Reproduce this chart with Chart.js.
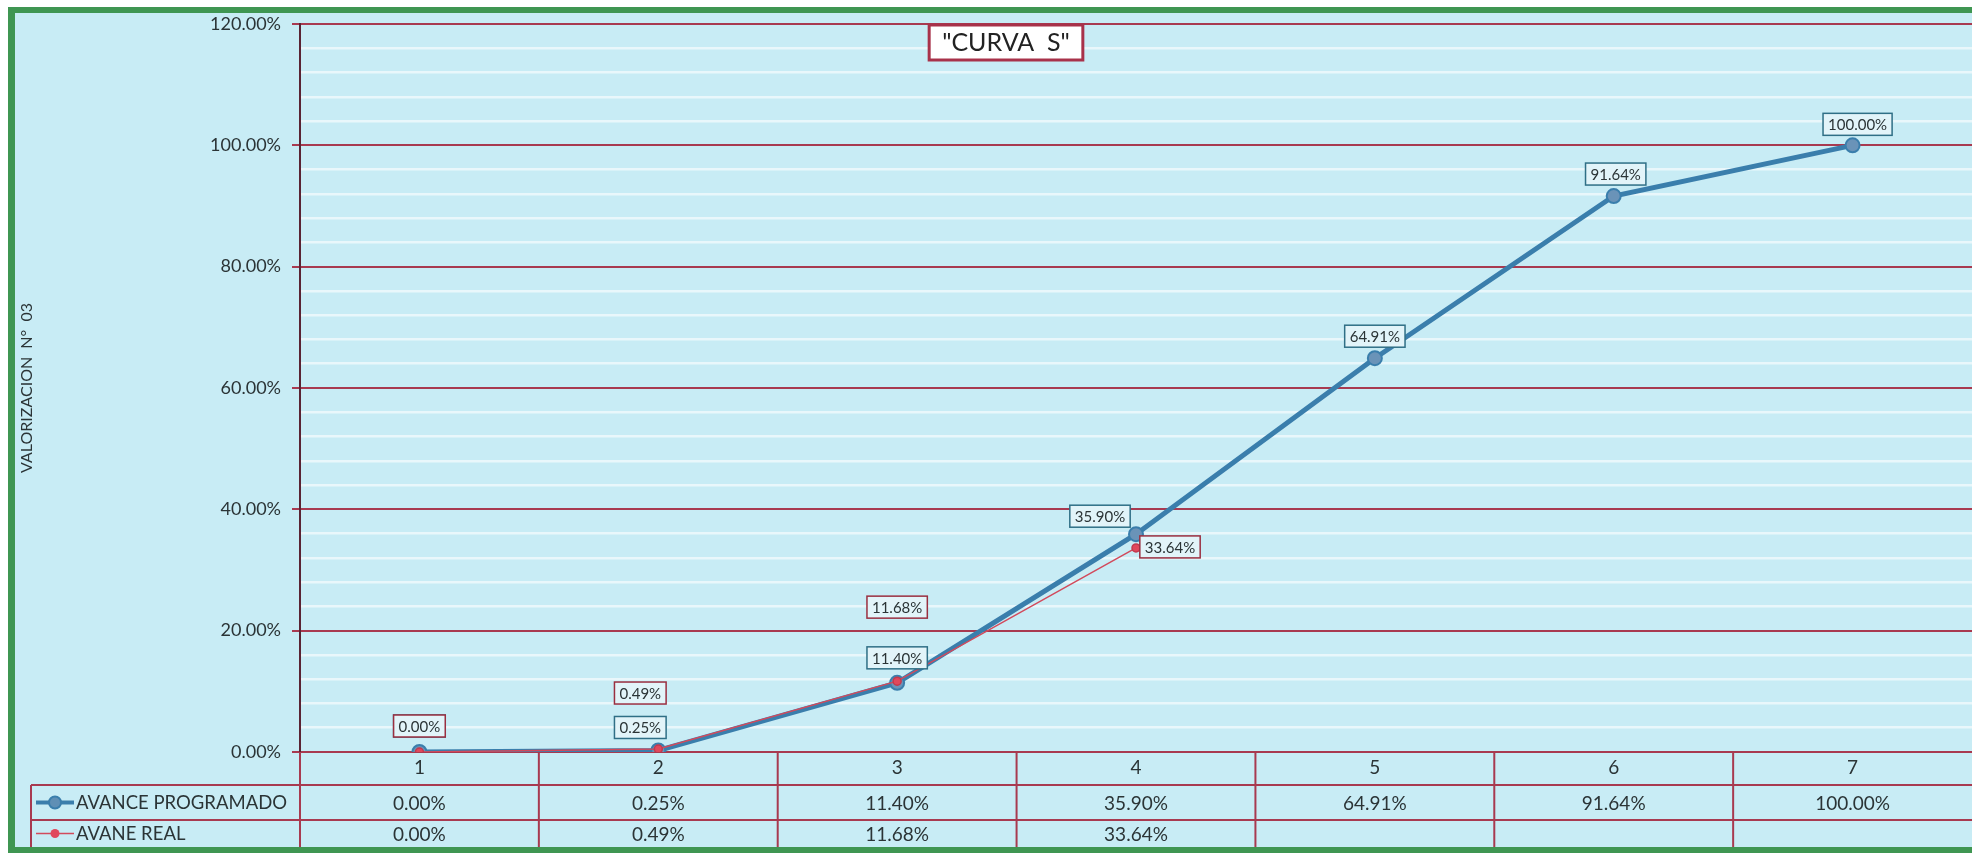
<!DOCTYPE html>
<html>
<head>
<meta charset="utf-8">
<script src="https://cdn.jsdelivr.net/npm/chart.js@4.4.0/dist/chart.umd.min.js"></script>
<style>
  html, body { margin: 0; padding: 0; background: #ffffff; overflow: hidden; }
  #outer { width: 1972px; height: 853px; overflow: hidden; position: relative; }
  #wrap { width: 1981px; height: 853px; position: relative; }
  canvas { display: block; }
</style>
</head>
<body>
<div id="outer"><div id="wrap"><canvas id="curva"></canvas></div></div>
<script>
// ==========================================
// Data
// ==========================================
const periodos = ["1", "2", "3", "4", "5", "6", "7"];
const avanceProgramado = [0.00, 0.25, 11.40, 35.90, 64.91, 91.64, 100.00];
const avanceReal = [0.00, 0.49, 11.68, 33.64];
const nombreProgramado = "AVANCE PROGRAMADO";
const nombreReal = "AVANE REAL";
const yMax = 120;
const yMajor = 20;
const yMinor = 4;

// label offsets (px) from each point, only styling
const offProg = [[0, -26], [-18, -23], [0, -25], [-36, -18], [0, -22], [2, -22], [5, -21]];
const offReal = [[0, -26], [-18, -56], [0, -74], [34, -1]];

const FONT = "Lato, 'Open Sans', sans-serif";
const RED = "#a83a50";
const BLUE = "#3a7eac";
const BG = "#c8ecf5";
const TXT = "#2b3436";
const fmt = (v) => v.toFixed(2) + "%";

// ==========================================
// Plugins
// ==========================================
const frame = {
   id: "frame",
   beforeDraw(chart) {
      const c = chart.ctx;
      c.save();
      c.fillStyle = "#ffffff";
      c.fillRect(0, 0, chart.width, chart.height);
      c.fillStyle = BG;
      c.fillRect(8, 7, chart.width, chart.height);
      c.fillStyle = "#3f9652";
      c.fillRect(8, 7, 7, chart.height);
      c.fillRect(8, 7, chart.width, 6);
      c.fillRect(8, chart.height - 6, chart.width, 6);
      c.restore();
   }
};

function drawBox(c, text, x, y, border) {
   c.font = "15px " + FONT;
   const w = c.measureText(text).width + 10;
   const h = 22;
   c.fillStyle = "#e2f4f9";
   c.fillRect(x - w / 2, y - h / 2, w, h);
   c.strokeStyle = border;
   c.lineWidth = 1.5;
   c.strokeRect(x - w / 2, y - h / 2, w, h);
   c.fillStyle = TXT;
   c.textAlign = "center";
   c.textBaseline = "middle";
   c.fillText(text, x, y + 1);
}

const pointLabels = {
   id: "pointLabels",
   afterDatasetsDraw(chart) {
      const c = chart.ctx;
      c.save();
      const prog = chart.getDatasetMeta(1).data;
      prog.forEach((p, i) => {
         drawBox(c, fmt(avanceProgramado[i]), p.x + offProg[i][0], p.y + offProg[i][1], "#2f6f86");
      });
      const real = chart.getDatasetMeta(0).data;
      real.forEach((p, i) => {
         drawBox(c, fmt(avanceReal[i]), p.x + offReal[i][0], p.y + offReal[i][1], "#9a2f40");
      });
      c.restore();
   }
};

const dataTable = {
   id: "dataTable",
   afterDraw(chart) {
      const c = chart.ctx;
      const area = chart.chartArea;
      const xs = chart.scales.x;
      const top = area.bottom;
      const r1 = top + 33;
      const r2 = top + 68;
      const bottom = chart.height - 6;
      const left = 31;
      const band = (area.right - area.left) / periodos.length;
      c.save();
      c.strokeStyle = RED;
      c.lineWidth = 2;
      c.beginPath();
      c.moveTo(left, r1); c.lineTo(chart.width, r1);
      c.moveTo(left, r2); c.lineTo(chart.width, r2);
      c.moveTo(left, r1); c.lineTo(left, bottom);
      for (let i = 0; i < periodos.length; i++) {
         const bx = area.left + i * band;
         c.moveTo(bx, top); c.lineTo(bx, bottom);
      }
      c.stroke();

      c.font = "19px " + FONT;
      c.fillStyle = TXT;
      c.textBaseline = "middle";
      c.textAlign = "center";
      avanceProgramado.forEach((v, i) => {
         c.fillText(fmt(v), xs.getPixelForValue(i), (r1 + r2) / 2 + 1);
      });
      avanceReal.forEach((v, i) => {
         c.fillText(fmt(v), xs.getPixelForValue(i), (r2 + bottom) / 2 + 1);
      });

      // legend keys
      const y1 = (r1 + r2) / 2, y2 = (r2 + bottom) / 2;
      c.strokeStyle = BLUE; c.lineWidth = 4;
      c.beginPath(); c.moveTo(36, y1); c.lineTo(74, y1); c.stroke();
      c.fillStyle = "#5f8fb5";
      c.beginPath(); c.arc(55, y1, 6, 0, Math.PI * 2); c.fill();
      c.lineWidth = 2; c.stroke();
      c.strokeStyle = "#d24a5c"; c.lineWidth = 1.5;
      c.beginPath(); c.moveTo(36, y2); c.lineTo(74, y2); c.stroke();
      c.fillStyle = "#e0485c";
      c.beginPath(); c.arc(55, y2, 4.5, 0, Math.PI * 2); c.fill();

      c.fillStyle = TXT;
      c.textAlign = "left";
      c.font = "18.5px " + FONT;
      c.fillText(nombreProgramado, 76, y1 + 1);
      c.fillText(nombreReal, 76, y2 + 1);

      // title box
      const t = "\"CURVA  S\"";
      c.font = "25px " + FONT;
      const tw = c.measureText(t).width;
      const cx = 1006, cy = 42;
      c.fillStyle = "#ffffff";
      c.fillRect(cx - tw / 2 - 13, cy - 17, tw + 26, 35);
      c.strokeStyle = "#a8324a"; c.lineWidth = 3;
      c.strokeRect(cx - tw / 2 - 13, cy - 17, tw + 26, 35);
      c.fillStyle = "#222";
      c.textAlign = "center";
      c.fillText(t, cx, cy + 1);
      c.restore();
   }
};

// ==========================================
// Chart
// ==========================================
const ctx = document.getElementById("curva");

let chart = new Chart(ctx, {
   type: "line",
   data: {
      labels: periodos,
      datasets: [{
         label: nombreReal,
         data: avanceReal,
         order: 0,
         borderColor: "#d24a5c",
         borderWidth: 1.5,
         pointRadius: 4,
         pointBackgroundColor: "#e0485c",
         pointBorderColor: "#c23a4e",
         tension: 0
      }, {
         label: nombreProgramado,
         data: avanceProgramado,
         order: 1,
         borderColor: BLUE,
         borderWidth: 5,
         pointRadius: 7,
         pointBackgroundColor: "#6a93b8",
         pointBorderColor: BLUE,
         pointBorderWidth: 2,
         tension: 0
      }]
   },
   options: {
      responsive: true,
      maintainAspectRatio: false,
      animation: false,
      layout: { padding: { top: 24, left: 0, right: 0, bottom: 0 } },
      plugins: {
         legend: { display: false },
         tooltip: { enabled: false }
      },
      scales: {
         x: {
            offset: true,
            grid: { display: false, drawTicks: false },
            border: { display: false },
            ticks: { color: TXT, font: { family: FONT, size: 19 }, padding: 4 },
            afterFit(s) {
               s.height = 101;
               s.paddingLeft = 0;
               s.paddingRight = 0;
            }
         },
         y: {
            min: 0,
            max: yMax,
            ticks: {
               stepSize: yMinor,
               autoSkip: false,
               color: TXT,
               font: { family: FONT, size: 18 },
               padding: 11,
               callback: (v) => (v % yMajor === 0 ? fmt(v) : "")
            },
            grid: {
               color: (c) => (c.tick && c.tick.value % yMajor === 0 ? RED : "rgba(255,255,255,0.6)"),
               lineWidth: (c) => (c.tick && c.tick.value % yMajor === 0 ? 2 : 2.5),
               tickColor: (c) => (c.tick && c.tick.value % yMajor === 0 ? RED : "rgba(0,0,0,0)"),
               tickLength: 8
            },
            border: { display: true, color: "#5a2333", width: 2 },
            title: {
               display: true,
               text: "VALORIZACION  N°  03",
               color: TXT,
               font: { family: FONT, size: 16 },
               padding: { top: 17 }
            },
            afterFit(s) { s.width = 300; }
         }
      }
   },
   plugins: [frame, pointLabels, dataTable]
});
</script>
</body>
</html>
